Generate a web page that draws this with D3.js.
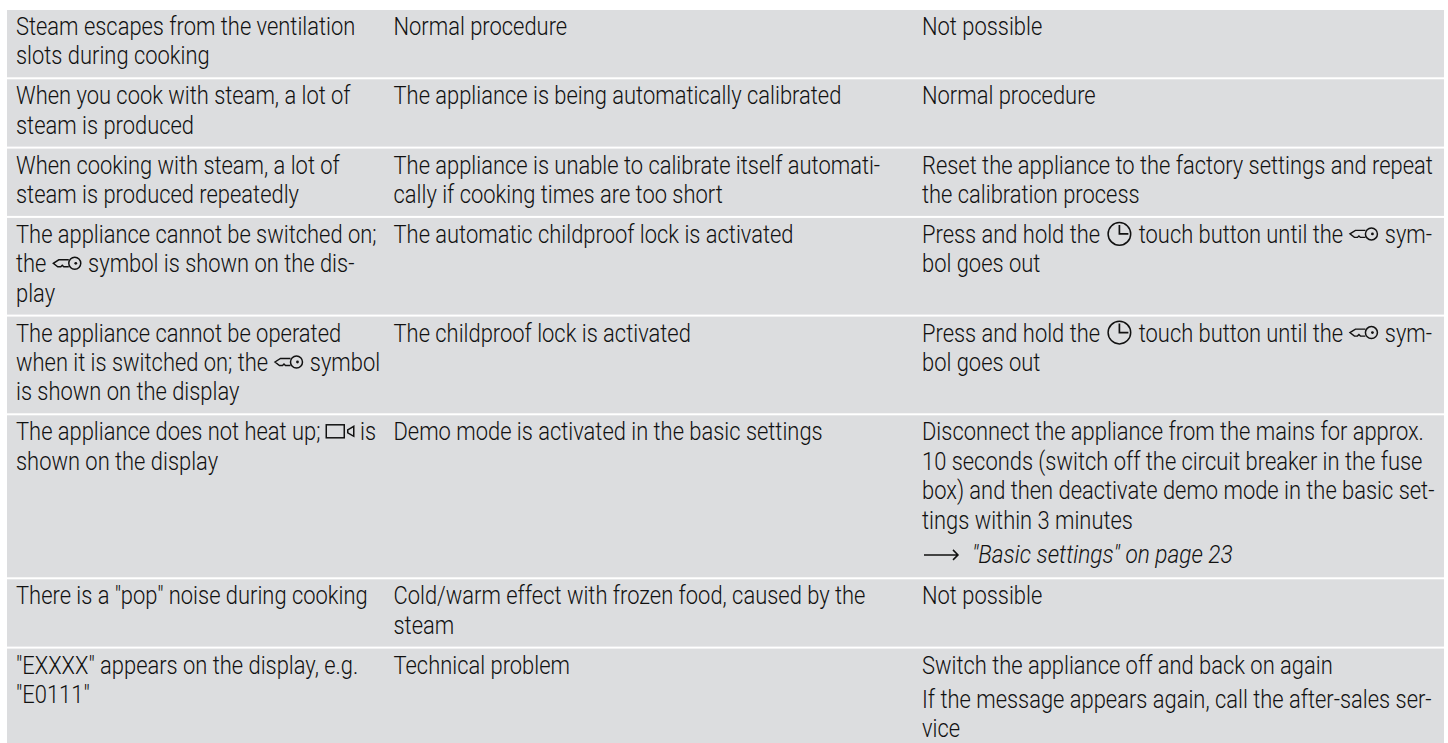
<!DOCTYPE html>
<html>
<head>
<meta charset="utf-8">
<script src="https://cdn.jsdelivr.net/npm/d3@7"></script>
<style>
html,body{margin:0;padding:0;background:#fff;overflow:hidden}
text{font-family:"Roboto","Liberation Sans",sans-serif;font-weight:300;font-size:25.5px;fill:#111}
</style>
</head>
<body>
<div id="chart"></div>
<script>
// each cell = list of paragraphs, each paragraph = list of lines
// {key} {clock} {demo} are the little display symbols, "->" starts a cross reference
var symptoms = [
  [["Steam escapes from the ventilation","slots during cooking"]],
  [["When you cook with steam, a lot of","steam is produced"]],
  [["When cooking with steam, a lot of","steam is produced repeatedly"]],
  [["The appliance cannot be switched on;","the {key} symbol is shown on the dis-","play"]],
  [["The appliance cannot be operated","when it is switched on; the {key} symbol","is shown on the display"]],
  [["The appliance does not heat up; {demo} is","shown on the display"]],
  [["There is a \"pop\" noise during cooking"]],
  [["\"EXXXX\" appears on the display, e.g.","\"E0111\""]]
];
var causes = [
  [["Normal procedure"]],
  [["The appliance is being automatically calibrated"]],
  [["The appliance is unable to calibrate itself automati-","cally if cooking times are too short"]],
  [["The automatic childproof lock is activated"]],
  [["The childproof lock is activated"]],
  [["Demo mode is activated in the basic settings"]],
  [["Cold/warm effect with frozen food, caused by the","steam"]],
  [["Technical problem"]]
];
var remedies = [
  [["Not possible"]],
  [["Normal procedure"]],
  [["Reset the appliance to the factory settings and repeat","the calibration process"]],
  [["Press and hold the {clock} touch button until the {key} sym-","bol goes out"]],
  [["Press and hold the {clock} touch button until the {key} sym-","bol goes out"]],
  [["Disconnect the appliance from the mains for approx.","10 seconds (switch off the circuit breaker in the fuse","box) and then deactivate demo mode in the basic set-","tings within 3 minutes"],["->\"Basic settings\" on page 23"]],
  [["Not possible"]],
  [["Switch the appliance off and back on again"],["If the message appears again, call the after-sales ser-","vice"]]
];
var columns = [symptoms, causes, remedies];

var width = 1448, height = 743;
var linePitch = 29.4, rowPad = 10.5, paraGap = 6.5, textParaGap = 5, rowGap = 2, top0 = 10;
var baseOffset = 25;
var squeeze = 0.86, squeezeItalic = 0.89; // source font is narrower than anything installed

var svg = d3.select("#chart").append("svg").attr("width", width).attr("height", height).style("display","block");
svg.append("rect").attr("width", width).attr("height", height).attr("fill", "#fff");

function cellHeight(cell){
  var n = d3.sum(cell, function(p){ return p.length; });
  return n * linePitch + (cell.length - 1) * paraGap;
}

// row tops come from how many lines the tallest cell has
var rowHeights = symptoms.map(function(d, i){
  return d3.max(columns, function(c){ return cellHeight(c[i]); }) + rowPad;
});
var rowTops = d3.cumsum([top0].concat(rowHeights));

var xCol = d3.scaleOrdinal().domain([0,1,2]).range([16, 393.5, 922]);

svg.selectAll("rect.row").data(rowHeights).enter().append("rect")
  .attr("class","row")
  .attr("x", 7).attr("width", 1437)
  .attr("y", function(d,i){ return rowTops[i]; })
  .attr("height", function(d){ return d - rowGap; })
  .attr("fill", "#dcdddf");

var ink = "#111";
var symbols = {
  key: { w: 29, lead: 1, draw: function(g){
    g.append("circle").attr("cx",22).attr("cy",0).attr("r",6).attr("fill","none").attr("stroke",ink).attr("stroke-width",1.5);
    g.append("circle").attr("cx",23).attr("cy",0).attr("r",1.4).attr("fill",ink);
    g.append("path").attr("d","M16 -3.5H6L0.5 0L5 3.5H8L9.5 2L11 3.5H16").attr("fill","none").attr("stroke",ink).attr("stroke-width",1.4);
  }},
  clock: { w: 25, lead: 2, draw: function(g){
    g.append("circle").attr("cx",12).attr("cy",0).attr("r",11.3).attr("fill","none").attr("stroke",ink).attr("stroke-width",1.5);
    g.append("path").attr("d","M12 -9V0H21").attr("fill","none").attr("stroke",ink).attr("stroke-width",1.7);
  }},
  demo: { w: 28, lead: 0, draw: function(g){
    g.append("rect").attr("x",0.5).attr("y",-6.5).attr("width",18).attr("height",13).attr("fill","none").attr("stroke",ink).attr("stroke-width",1.5);
    g.append("path").attr("d","M22 -1.5L28 -5V5L22 1.5Z").attr("fill","none").attr("stroke",ink).attr("stroke-width",1.5);
  }}
};

function drawLine(parent, x, y, line){
  var italic = false;
  if (line.indexOf("->") === 0){
    line = line.slice(2);
    italic = true;
    parent.append("path").attr("fill","none").attr("stroke",ink).attr("stroke-width",1.5)
      .attr("d","M"+(x+2)+" "+(y-8)+"H"+(x+36)+"M"+(x+31)+" "+(y-13)+"L"+(x+36)+" "+(y-8)+"L"+(x+31)+" "+(y-3));
    x += 50;
  }
  var sx = italic ? squeezeItalic : squeeze;
  line.split(/(\{\w+\})/).forEach(function(part){
    if (!part) return;
    var m = part.match(/^\{(\w+)\}$/);
    if (m){
      var s = symbols[m[1]];
      var g = parent.append("g").attr("transform","translate("+(x+s.lead)+","+(y-9)+")");
      s.draw(g);
      x += s.lead + s.w + 1;
    } else {
      var t = parent.append("text")
        .attr("transform","translate("+x+","+y+") scale("+sx+",1)")
        .style("white-space","pre").text(part);
      if (italic) t.style("font-style","italic");
      x += t.node().getComputedTextLength() * sx;
    }
  });
}

columns.forEach(function(col, c){
  col.forEach(function(cell, r){
    var g = svg.append("g");
    var y = rowTops[r] + baseOffset;
    cell.forEach(function(para){
      para.forEach(function(line){
        drawLine(g, xCol(c), y, line);
        y += linePitch;
      });
      y += textParaGap;
    });
  });
});
</script>
</body>
</html>
